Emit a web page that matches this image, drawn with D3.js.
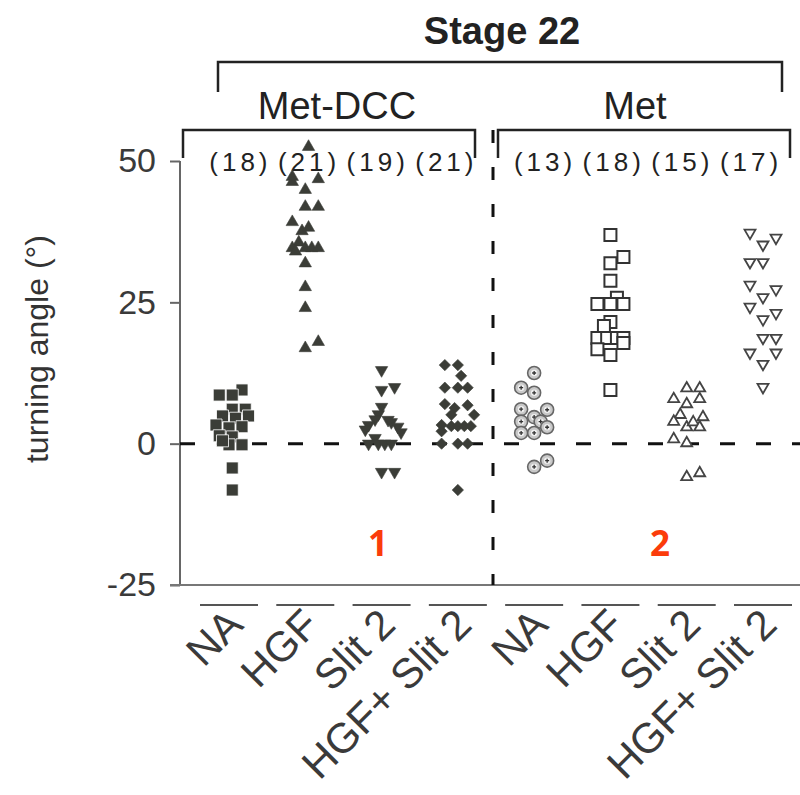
<!DOCTYPE html>
<html>
<head>
<meta charset="utf-8">
<script src="https://cdn.jsdelivr.net/npm/d3@7"></script>
<style>
  body { margin: 0; background: #fff; }
  svg { font-family: "Liberation Sans", Arial, sans-serif; }
</style>
</head>
<body>
<div class="container"></div>
<script>
// Categories and groups
const panels = ["Met-DCC", "Met"];
const treatments = ["NA", "HGF", "Slit 2", "HGF+ Slit 2"];
const counts = [18, 21, 19, 21, 13, 18, 15, 17];
const yTicks = [50, 25, 0, -25];

// Turning angle values: [value, jitter column]
const dccNA = [[9.5, 2], [8.6, -1.5], [8.6, 0.5], [6.1, 0.5], [6.1, 2.5], [4.9, -1], [4.9, 3], [4.5, 1],
  [3.3, -2], [2.8, 0], [3.0, 2], [1.4, -1.5], [1.2, 0.5], [-0.2, 0], [-0.2, 2], [-4.3, 0.5], [-8.2, 0.5], [0.5, -1]];
const dccHGF = [[52.5, 0.5], [46.3, -2], [47.2, -2], [46.8, 2], [44.9, 0], [41.9, 0], [41.9, 2], [39.2, -2],
  [37.6, -0.5], [38.2, 0.5], [35.6, -1], [34.6, -2], [34.0, -1.5], [34.6, 0], [34.6, 1], [34.6, 2],
  [31.9, 0], [27.7, 0], [24.0, 0], [16.9, 0], [18.0, 2]];
const dccSlit = [[13.0, 0], [9.5, 0], [10.0, 2], [6.5, 0], [5.2, -0.5], [4.3, -1], [3.3, -2], [4.2, 1],
  [3.8, 1.5], [3.0, 2.5], [2.5, -2.5], [2.0, 3], [1.0, -1], [0, -2], [0, -0.5], [0, 0.5], [0, 1.5],
  [-5.0, 0], [-5.0, 2]];
const dccBoth = [[13.9, -2], [13.9, 0], [12.0, 0.5], [9.9, -2], [9.9, 0], [9.9, 1.5], [7.0, -2], [6.8, 1.5],
  [6.3, -0.5], [5.1, -1], [5.1, 2.5], [3.3, -2.5], [3.1, -1], [3.1, 0], [3.1, 1], [3.1, 2], [2.2, -2.5],
  [0, -2.5], [0, 0], [0, 1.5], [-8.2, 0]];
const metNA = [[12.5, 0], [9.9, -2], [9.0, 0], [6.1, -2], [6.0, 2], [4.7, 0], [3.9, 1], [3.9, -2],
  [2.9, 2], [1.9, -2], [1.9, 0], [-4.1, 0], [-3.0, 2]];
const metHGF = [[36.9, 0], [33.0, 2], [31.9, 0], [28.8, 0], [25.8, 1], [24.7, -2], [24.7, 0], [24.7, 2],
  [21.5, 0], [20.8, -1], [18.7, -2], [18.7, -0.5], [18.7, 1], [18.7, 2], [16.7, -2], [15.7, 0],
  [17.8, 2], [9.5, 0]];
const metSlit = [[9.8, 0], [9.8, 2], [7.9, -2], [7.9, 2], [7.0, 0], [5.1, -1], [4.7, 2.5], [3.9, -2],
  [2.9, 0], [3.8, 1], [2.9, 2], [0.8, -2], [0.1, 0], [-5.9, 0], [-5.2, 2]];
const metBoth = [[37.3, -2], [36.4, 2], [35.2, 0], [32.1, -2], [32.1, 0], [28.1, -2], [27.3, 2], [25.9, 0],
  [24.2, -2], [23.1, 2], [22.0, 0], [18.7, 0], [18.7, 2], [16.1, -2], [16.1, 2], [14.1, 0], [10.0, 0]];

const groups = [dccNA, dccHGF, dccSlit, dccBoth, metNA, metHGF, metSlit, metBoth];
const keys = d3.range(8);

const dark = "#3b3d37";
const W = 800, H = 795;

const svg = d3.select(".container").append("svg")
  .attr("width", W).attr("height", H);

// Scales
const x = d3.scalePoint().domain(keys).range([229, 763]);
const jitter = d3.scaleLinear().domain([-1, 1]).range([-6.5, 6.5]);
const y = d3.scaleLinear().domain([-25, 50]).range([585, 161]);

// Left axis
const yAxis = svg.append("g")
  .attr("transform", "translate(180,0)")
  .call(d3.axisLeft(y).tickValues(yTicks).tickSize(10).tickPadding(14).tickFormat(d => String(d)));
yAxis.select(".domain").attr("stroke", "#666").attr("stroke-width", 2).attr("d", `M0,${y(50)}V${y(-25)}`);
yAxis.selectAll(".tick line").attr("stroke", "#666").attr("stroke-width", 2);
yAxis.selectAll(".tick text")
  .attr("font-size", 34).attr("fill", "#3a3a3a")
  .attr("font-family", "Liberation Sans, Arial, sans-serif");

// Bottom line
svg.append("line")
  .attr("x1", 170).attr("x2", W)
  .attr("y1", y(-25)).attr("y2", y(-25))
  .attr("stroke", "#777").attr("stroke-width", 2);

// Y axis title
svg.append("text")
  .attr("transform", `translate(48,349) rotate(-90)`)
  .attr("text-anchor", "middle")
  .attr("font-size", 32).attr("fill", "#333")
  .text("turning angle (°)");

// Zero line and separator
svg.append("line")
  .attr("x1", 180).attr("x2", W)
  .attr("y1", y(0)).attr("y2", y(0))
  .attr("stroke", "#111").attr("stroke-width", 3)
  .attr("stroke-dasharray", "15,21");

const sepX = (x(3) + x(4)) / 2 - 3;
svg.append("line")
  .attr("x1", sepX).attr("x2", sepX)
  .attr("y1", 130).attr("y2", y(-25))
  .attr("stroke", "#111").attr("stroke-width", 3)
  .attr("stroke-dasharray", "13,24");

// Brackets
const bracket = (x0, x1, yTop, yBot) =>
  svg.append("path")
    .attr("d", `M${x0},${yBot}V${yTop}H${x1}V${yBot}`)
    .attr("fill", "none").attr("stroke", "#222").attr("stroke-width", 2.5);

bracket(218, 782, 62, 92);
bracket(183, 475, 130, 158);
bracket(498, 790, 130, 158);

svg.append("text")
  .attr("x", 502).attr("y", 44)
  .attr("text-anchor", "middle")
  .attr("font-size", 38).attr("font-weight", "bold").attr("fill", "#222")
  .text("Stage 22");

svg.selectAll(".panel-label")
  .data(panels)
  .join("text")
  .attr("class", "panel-label")
  .attr("x", (d, i) => i === 0 ? 337 : 635)
  .attr("y", 119)
  .attr("text-anchor", "middle")
  .attr("font-size", 38).attr("fill", "#222")
  .text(d => d);

// Counts
svg.selectAll(".count")
  .data(counts)
  .join("text")
  .attr("class", "count")
  .attr("x", (d, i) => {
    const mid = i < 4 ? 343 : 643;
    return mid + (x(i) - mid) * 0.9;
  })
  .attr("y", 171)
  .attr("text-anchor", "middle")
  .attr("font-size", 26).attr("letter-spacing", 4).attr("fill", "#222")
  .text(d => `(${d})`);

// Category underlines and labels
svg.selectAll(".uline")
  .data(keys)
  .join("line")
  .attr("class", "uline")
  .attr("x1", d => x(d) - 29).attr("x2", d => x(d) + 29)
  .attr("y1", 605).attr("y2", 605)
  .attr("stroke", "#555").attr("stroke-width", 2);

svg.selectAll(".xlabel")
  .data(keys)
  .join("text")
  .attr("class", "xlabel")
  .attr("transform", d => `translate(${x(d) + 16},${627}) rotate(-45)`)
  .attr("text-anchor", "end")
  .attr("font-size", 42).attr("fill", "#3a3a3a")
  .text(d => treatments[d % 4]);

// Markers
const sym = (type, size) => d3.symbol().type(type).size(size)();
const markers = [
  { path: sym(d3.symbolSquare, 144), rot: 0, fill: dark, stroke: "#fff", sw: 0.8 },
  { path: sym(d3.symbolTriangle, 66), rot: 0, fill: dark, stroke: dark, sw: 0.6 },
  { path: sym(d3.symbolTriangle, 66), rot: 180, fill: dark, stroke: dark, sw: 0.6 },
  { path: sym(d3.symbolSquare, 64), rot: 45, fill: dark, stroke: dark, sw: 0.6 },
  null,
  { path: sym(d3.symbolSquare, 144), rot: 0, fill: "#fff", stroke: "#333", sw: 2 },
  { path: sym(d3.symbolTriangle, 52), rot: 0, fill: "#fff", stroke: "#444", sw: 1.8 },
  { path: sym(d3.symbolTriangle, 52), rot: 180, fill: "#fff", stroke: "#444", sw: 1.8 }
];

groups.forEach((vals, gi) => {
  const g = svg.append("g").attr("class", `group-${gi}`);
  const pts = g.selectAll("g")
    .data(vals)
    .join("g")
    .attr("transform", d => `translate(${x(gi) + jitter(d[1])},${y(d[0])})`);
  if (gi === 4) {
    pts.append("circle").attr("r", 6.5)
      .attr("fill", "#c8c8c8").attr("stroke", "#666").attr("stroke-width", 1.6);
    pts.append("circle").attr("r", 3.2).attr("fill", "#f0f0f0");
    pts.append("path").attr("d", "M-2,0H2M0,-2V2")
      .attr("stroke", "#333").attr("stroke-width", 1.3);
  } else {
    const m = markers[gi];
    pts.append("path")
      .attr("d", m.path)
      .attr("transform", `rotate(${m.rot})`)
      .attr("fill", m.fill).attr("stroke", m.stroke).attr("stroke-width", m.sw);
  }
});

// Panel numbers
svg.selectAll(".num")
  .data(["1", "2"])
  .join("text")
  .attr("class", "num")
  .attr("x", (d, i) => i === 0 ? 378 : 660)
  .attr("y", 556)
  .attr("text-anchor", "middle")
  .attr("font-family", "Open Sans, sans-serif")
  .attr("font-size", 35).attr("font-weight", "bold").attr("fill", "#fb3c0b")
  .text(d => d);
</script>
</body>
</html>
